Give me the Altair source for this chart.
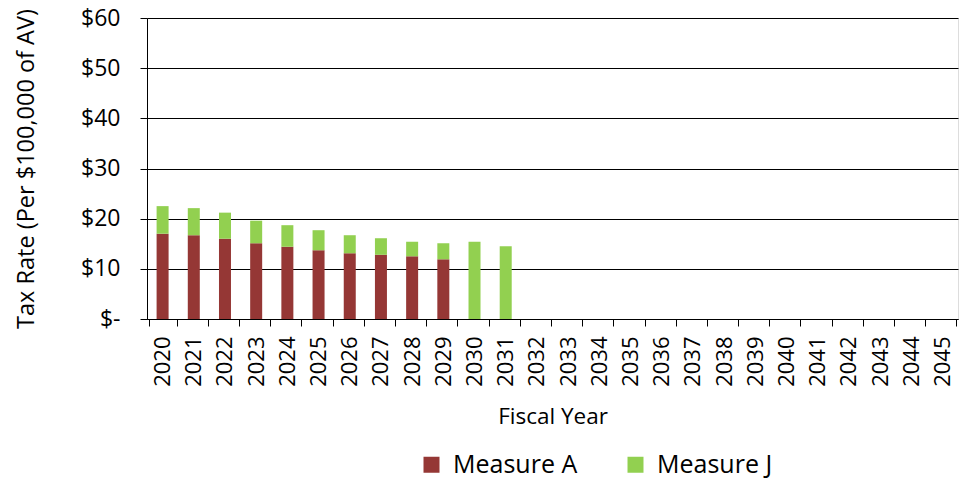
import altair as alt
import pandas as pd

years = [str(y) for y in range(2020, 2046)]
bar_years = [str(y) for y in range(2020, 2032)]
measure_a = [17.0, 16.7, 16.0, 15.1, 14.4, 13.7, 13.1, 12.8, 12.5, 11.9, 0, 0]
measure_j = [5.5, 5.4, 5.2, 4.5, 4.3, 4.0, 3.6, 3.3, 2.9, 3.2, 15.4, 14.5]
series = ["Measure A", "Measure J"]
colors = ["#953735", "#92D050"]

rows = []
for y, a, j in zip(bar_years, measure_a, measure_j):
    rows.append({"year": y, "series": "Measure A", "value": a, "ord": 0})
    rows.append({"year": y, "series": "Measure J", "value": j, "ord": 1})
df = pd.DataFrame(rows)

FONT = "Open Sans"

chart = alt.Chart(df).mark_bar(size=12).encode(
    x=alt.X("year:N", scale=alt.Scale(domain=years), title="Fiscal Year",
            axis=alt.Axis(labelAngle=-90, labelFontSize=22, titleFontSize=22.5,
                          labelPadding=10, titlePadding=19, tickBand="extent",
                          tickSize=7, domainColor="black", tickColor="black",
                          labelColor="black", titleColor="black", grid=False,
                          labelBaseline="middle", labelAlign="right",
                          titleFontWeight="normal")),
    y=alt.Y("value:Q", stack="zero", scale=alt.Scale(domain=[0, 60], nice=False),
            title="Tax Rate (Per $100,000 of AV)",
            axis=alt.Axis(values=[0, 10, 20, 30, 40, 50, 60],
                          labelExpr="datum.value == 0 ? '$-' : '$' + datum.value",
                          labelFontSize=23, titleFontSize=23.5, labelPadding=20,
                          titlePadding=42, tickSize=7, gridColor="black",
                          gridOpacity=1, domainColor="black", tickColor="black",
                          labelColor="black", titleColor="black",
                          titleFontWeight="normal")),
    color=alt.Color("series:N", scale=alt.Scale(domain=series, range=colors),
                    legend=alt.Legend(title=None, orient="none", direction="horizontal",
                                      legendX=272, legendY=434, symbolType="square",
                                      symbolSize=256, symbolStrokeWidth=0,
                                      labelFontSize=25, labelColor="black",
                                      columnPadding=45, labelOffset=9)),
    order=alt.Order("ord:Q", sort="ascending"),
).properties(
    width=811, height=301,
    autosize=alt.AutoSizeParams(type="none"),
    padding={"left": 147, "top": 18, "right": 2, "bottom": 162},
).configure_view(stroke=None).configure(font=FONT)

chart.save("out.html", embed_options={"renderer": "svg", "actions": False})
